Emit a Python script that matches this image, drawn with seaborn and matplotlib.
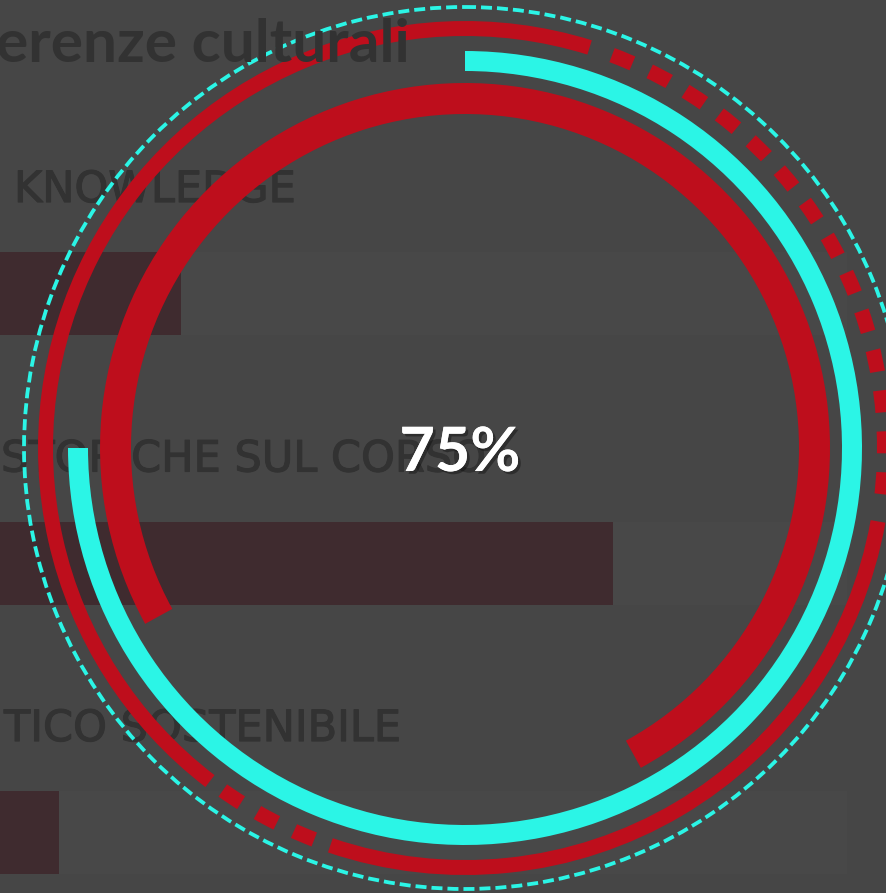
import numpy as np
import pandas as pd
import matplotlib
matplotlib.use('Agg')
import matplotlib.pyplot as plt
import matplotlib.patheffects as pe
import seaborn as sns

# ---- data -------------------------------------------------------------
bar_labels = ['KNOWLEDGE', 'STORICHE SUL CORSO', 'TICO SOSTENIBILE']
bar_values = [21.4, 72.4, 7.0]        # % of the track
track_values = [100, 100, 100]
title_text = 'erenze culturali'

gauge_value = 75                      # number in the middle
cyan_arc = [0, 75]                    # start / end, % of a turn clockwise from 12 o'clock
red_arc = [-33, 42]
outer_solid = [[60.4, 104.8], [27.8, 55.2]]
outer_dashed = [[5.7, 27.0], [55.85, 59.8]]

# ---- style ------------------------------------------------------------
BG = '#464646'
TRACK = '#484848'
BAR = '#3f2b2f'
RED = '#be0e1c'
CYAN = '#2bf5e6'
GHOST = '#323232'

W, H = 886, 893
PX = 0.72  # points per pixel at dpi 100

sns.set_style('white')
plt.rcParams['font.family'] = ['Lato', 'DejaVu Sans']


def fx(x):
    return x / W


def fy(y):
    return 1 - y / H


fig = plt.figure(figsize=(W / 100, H / 100), dpi=100, facecolor=BG)

# background bars
ax = fig.add_axes([0, 0, 1, 1])
ax.set_facecolor(BG)
df = pd.DataFrame({'label': bar_labels, 'value': bar_values, 'track': track_values})
bar_w = 83 / 269.5
sns.barplot(data=df, x='track', y='label', orient='h', color=TRACK,
            saturation=1, width=bar_w, linewidth=0, ax=ax)
sns.barplot(data=df, x='value', y='label', orient='h', color=BAR,
            saturation=1, width=bar_w, linewidth=0, ax=ax)
scale = 847 / 100
ax.set_xlim(0, W / scale)
ax.set_ylim((H - 293.5) / 269.5, -293.5 / 269.5)
ax.set_axis_off()

label_x = [14, 1, 4]
for i, lab in enumerate(bar_labels):
    ax.text(label_x[i] / scale, i - 0.3395, lab, ha='left', va='baseline',
            fontsize=31, color=GHOST, family='DejaVu Sans',
            path_effects=[pe.withStroke(linewidth=0.8, foreground=GHOST)])

fig.text(fx(-4), fy(62), title_text, ha='left', va='baseline',
         fontsize=43.5, fontweight='bold', color=GHOST)

# gauge rings on a polar axes centred on the circle
R = 460
cx, cy = 465, 448
pax = fig.add_axes([fx(cx - R), (H - cy - R) / H, 2 * R / W, 2 * R / H],
                   projection='polar')
pax.set_facecolor('none')
pax.set_theta_zero_location('N')
pax.set_theta_direction(-1)


def turn(p):
    return p / 100 * 2 * np.pi


def ring(a, b, r0, r1, color):
    pax.bar(turn(a), r1 - r0, width=turn(b - a), bottom=r0, align='edge',
            color=color, linewidth=0)


ring(red_arc[0], red_arc[1], 334, 365, RED)
ring(cyan_arc[0], cyan_arc[1], 377, 397, CYAN)
for a, b in outer_solid:
    ring(a, b, 412, 427, RED)
for a, b in outer_dashed:
    pax.axhline(419.5, xmin=a / 100, xmax=b / 100, color=RED,
                linewidth=15 * PX, linestyle=(0, (22 / 15, 19 / 15)),
                dash_capstyle='butt')
pax.axhline(441, xmin=0, xmax=1, color=CYAN, linewidth=3.8 * PX,
            linestyle=(0, (11 / 3.8, 5 / 3.8)), dash_capstyle='butt')

pax.set_ylim(0, R)
pax.set_axis_off()

fig.text(fx(460), fy(471), f'{gauge_value}%', ha='center', va='baseline',
         fontsize=44, fontweight='bold', color='white',
         path_effects=[pe.withSimplePatchShadow(offset=(2, -2),
                                                shadow_rgbFace='black',
                                                alpha=0.35),
                       pe.Normal()])

fig.savefig('out.png', dpi=100, facecolor=BG)
